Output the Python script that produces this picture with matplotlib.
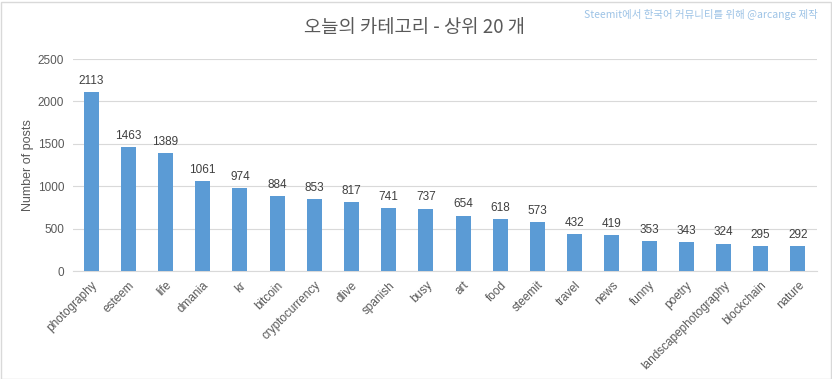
import matplotlib
matplotlib.use("Agg")
import matplotlib.pyplot as plt
from matplotlib.patches import Rectangle

categories = ["photography", "esteem", "life", "dmania", "kr", "bitcoin", "cryptocurrency",
              "dlive", "spanish", "busy", "art", "food", "steemit", "travel", "news",
              "funny", "poetry", "landscapephotography", "blockchain", "nature"]
values = [2113, 1463, 1389, 1061, 974, 884, 853, 817, 741, 737, 654, 618, 573, 432, 419,
          353, 343, 324, 295, 292]
yticks = [0, 500, 1000, 1500, 2000, 2500]

plt.rcParams['font.family'] = ['Noto Sans CJK KR', 'DejaVu Sans']
txt = '#595959'

fig = plt.figure(figsize=(8.32, 3.79), dpi=100)
ax = fig.add_axes([72.5/832, 108/379, 744/832, 212/379])
x = list(range(len(categories)))
ax.bar(x, values, width=0.4, color='#5B9BD5', zorder=3)
ax.set_xlim(-0.5, len(categories) - 0.5)
ax.set_ylim(0, 2500)
ax.set_yticks(yticks)
ax.set_yticklabels([str(t) for t in yticks], fontsize=8.5, color=txt, family=['Liberation Sans'])
ax.set_xticks(x)
ax.set_xticklabels(categories, rotation=45, ha='right', rotation_mode='anchor',
                   fontsize=8.5, color=txt, family=['Liberation Sans'])
ax.tick_params(axis='both', length=0, pad=6)
ax.grid(axis='y', color='#D9D9D9', linewidth=0.8, zorder=0)
for s in ['top', 'right', 'left']:
    ax.spines[s].set_visible(False)
ax.spines['bottom'].set_color('#D9D9D9')
ax.set_ylabel('Number of posts', fontsize=9, color=txt, family=['Liberation Sans'], labelpad=3)
for xi, v in zip(x, values):
    ax.text(xi, v + 60, str(v), ha='center', va='bottom', fontsize=8.5, color='#404040',
            family=['Liberation Sans'])

fig.text(415/832, 1 - 27/379, '오늘의 카테고리 - 상위 20 개', ha='center', va='center',
         fontsize=13.5, color='#595959')
fig.text(818/832, 1 - 14/379, 'Steemit에서 한국어 커뮤니티를 위해 @arcange 제작', ha='right',
         va='center', fontsize=7.5, color='#9DC3E6')
fig.patches.append(Rectangle((0.5/832, 0.5/379), 830/832, 377/379, transform=fig.transFigure,
                             fill=False, edgecolor='#D9D9D9', linewidth=1))
fig.savefig('out.png', dpi=100)
